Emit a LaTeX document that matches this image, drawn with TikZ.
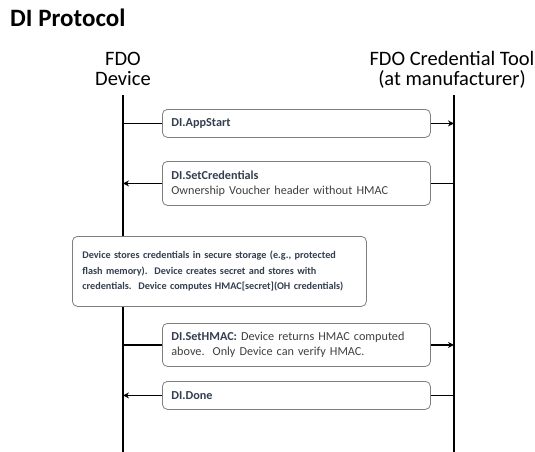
\documentclass[tikz,border=0pt]{standalone}
\usepackage{fontspec}
\setmainfont{Carlito}
\usetikzlibrary{arrows.meta}
\definecolor{lbl}{HTML}{333F50}
\definecolor{body}{HTML}{404040}
\definecolor{edge}{HTML}{7F7F7F}
\tikzset{
  lifeline/.style={line width=2.6pt,black},
  msgbox/.style={draw=edge,line width=0.8pt,rounded corners=5pt,fill=white,anchor=north west,inner xsep=9pt,inner ysep=0pt,align=left,text=body,font=\fontsize{12.2}{15}\selectfont},
  msg/.style={line width=1.6pt,-{Stealth[length=6pt,width=6pt]}},
  plain/.style={line width=1.6pt},
  head/.style={font=\fontsize{20.5}{20}\selectfont,align=center,text=black,anchor=base},
}
\begin{document}
\begin{tikzpicture}[x=1pt,y=-1pt]
\useasboundingbox (0,0) rectangle (535,452);
\node[anchor=base west,inner sep=0pt,font=\fontsize{25}{30}\selectfont\bfseries] (title) at (10,27) {DI Protocol};
\node[head] (hdev) at (123,85) {FDO\\Device};
\node[head] (htool) at (452,85) {FDO Credential Tool\\(at manufacturer)};
\coordinate (Ltop) at (123,95);
\coordinate (Lbot) at (123,452);
\coordinate (Rtop) at (454,95);
\coordinate (Rbot) at (454,452);
\draw[lifeline] (Ltop) -- (Lbot);
\draw[lifeline] (Rtop) -- (Rbot);
% boxes
\node[msgbox,minimum width=268pt,minimum height=28pt,text width=250pt] (m1) at (162,109) {\textcolor{lbl}{\bfseries DI.AppStart}};
\node[msgbox,minimum width=268pt,minimum height=44pt,text width=250pt] (m2) at (162,161) {\textcolor{lbl}{\bfseries DI.SetCredentials}\\Ownership Voucher header without HMAC};
\node[msgbox,minimum width=294pt,minimum height=70pt,inner xsep=10pt,text width=274pt,text=lbl,font=\fontsize{10.2}{15.5}\selectfont\bfseries] (note) at (72,236) {Device stores credentials in secure storage (e.g., protected\\flash memory).\ \ Device creates secret and stores with\\credentials.\ \ Device computes HMAC[secret](OH credentials)};
\node[msgbox,minimum width=268pt,minimum height=43pt,text width=250pt] (m3) at (162,323) {\textcolor{lbl}{\bfseries DI.SetHMAC:} Device returns HMAC computed\\above.\ \ Only Device can verify HMAC.};
\node[msgbox,minimum width=268pt,minimum height=28pt,text width=250pt] (m4) at (162,381) {\textcolor{lbl}{\bfseries DI.Done}};
% connectors
\coordinate (a1) at (Ltop |- m1.west);
\coordinate (b1) at (Rtop |- m1.east);
\draw[plain] (a1) -- (m1.west);
\draw[msg] (m1.east) -- (b1);
\coordinate (a2) at (Ltop |- m2.west);
\coordinate (b2) at (Rtop |- m2.east);
\draw[plain] (b2) -- (m2.east);
\draw[msg] (m2.west) -- (a2);
\coordinate (a3) at (Ltop |- m3.west);
\coordinate (b3) at (Rtop |- m3.east);
\draw[plain] (a3) -- (m3.west);
\draw[msg] (m3.east) -- (b3);
\coordinate (a4) at (Ltop |- m4.west);
\coordinate (b4) at (Rtop |- m4.east);
\draw[plain] (b4) -- (m4.east);
\draw[msg] (m4.west) -- (a4);
\end{tikzpicture}
\end{document}
